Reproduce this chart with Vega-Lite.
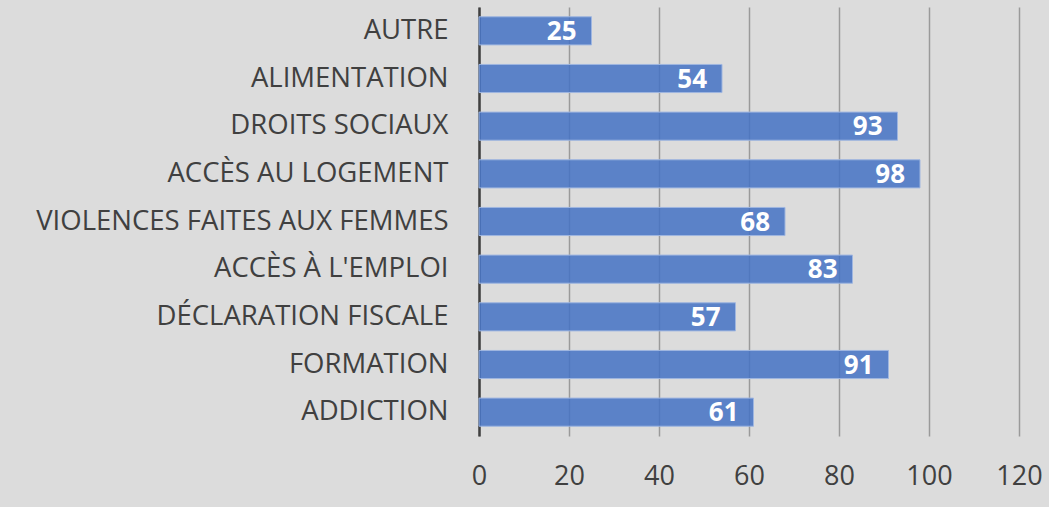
{
  "$schema": "https://vega.github.io/schema/vega-lite/v6.json",
  "autosize": {"type": "none"},
  "width": 540,
  "height": 429,
  "padding": {"left": 479, "top": 7, "right": 30, "bottom": 71},
  "background": "#dcdcdc",
  "config": {
    "view": {"stroke": null},
    "font": "Open Sans"
  },
  "data": {
    "values": [
      {"cat": "AUTRE", "val": 25},
      {"cat": "ALIMENTATION", "val": 54},
      {"cat": "DROITS SOCIAUX", "val": 93},
      {"cat": "ACCÈS AU LOGEMENT", "val": 98},
      {"cat": "VIOLENCES FAITES AUX FEMMES ", "val": 68},
      {"cat": "ACCÈS À L'EMPLOI", "val": 83},
      {"cat": "DÉCLARATION FISCALE", "val": 57},
      {"cat": "FORMATION", "val": 91},
      {"cat": "ADDICTION", "val": 61}
    ]
  },
  "encoding": {
    "y": {
      "field": "cat", "type": "nominal", "sort": null,
      "scale": {"paddingInner": 0.41, "paddingOuter": 0.205},
      "axis": {
        "title": null, "ticks": false, "domainColor": "#404040", "domainWidth": 2.5,
        "labelFont": "Open Sans", "labelFontSize": 27.5, "labelColor": "#404040",
        "labelPadding": 31, "labelLimit": 500
      }
    },
    "x": {
      "field": "val", "type": "quantitative",
      "scale": {"domain": [0, 120], "nice": false},
      "axis": {
        "title": null, "values": [0, 20, 40, 60, 80, 100, 120], "ticks": false, "domain": false,
        "grid": true, "gridColor": "#9a9a9a", "gridWidth": 1.5,
        "labelFont": "Open Sans", "labelFontSize": 27, "labelColor": "#404040",
        "labelPadding": 27, "labelFlush": false
      }
    }
  },
  "layer": [
    {
      "mark": {"type": "bar", "fill": "#4472c4", "fillOpacity": 0.85, "stroke": "#9fb6e0", "strokeWidth": 1}
    },
    {
      "mark": {"type": "text", "align": "right", "baseline": "middle", "dx": -15, "dy": 1, "color": "white", "fontWeight": "bold", "fontSize": 26, "font": "Open Sans"},
      "encoding": {"text": {"field": "val", "type": "quantitative"}}
    }
  ]
}
